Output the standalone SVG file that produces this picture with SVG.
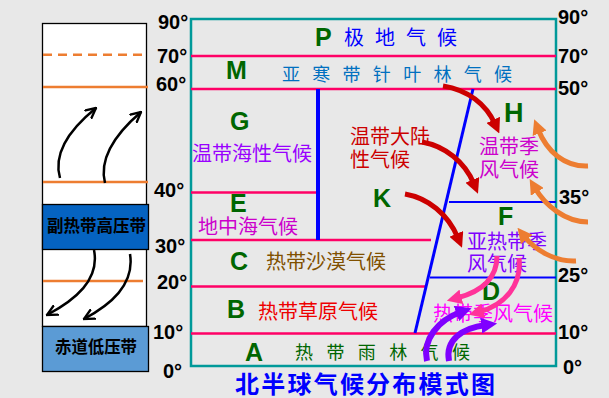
<svg xmlns="http://www.w3.org/2000/svg" width="609" height="398" viewBox="0 0 609 398">
<defs>
<style>
.deg{font-family:"Liberation Sans",Arial,sans-serif;font-weight:bold;font-size:20px;fill:#000}
.let{font-family:"Liberation Sans",Arial,sans-serif;font-weight:bold;font-size:25px;fill:#006600}
.cjk{font-family:"Liberation Sans","Noto Sans CJK SC",sans-serif;font-size:20px}
.s17{font-size:17px}
.s18{font-size:18px}
.s24{font-size:24px}
.bold{font-weight:bold}
.mag{stroke:#ff0066;stroke-width:2.5;fill:none}
.blu{stroke:#0000ff;fill:none}
.org{stroke:#ed7d31;stroke-width:2.5;fill:none}
.arr{fill:none;stroke-width:5}
.blk{fill:none;stroke:#000;stroke-width:2.5}
</style>
<marker id="hRed" viewBox="0 0 10 10" refX="3" refY="5" markerWidth="15" markerHeight="15" markerUnits="userSpaceOnUse" orient="auto"><path d="M0,0 L10,5 L0,10 z" fill="#cc0000"/></marker>
<marker id="hOrg" viewBox="0 0 10 10" refX="3" refY="5" markerWidth="15" markerHeight="15" markerUnits="userSpaceOnUse" orient="auto"><path d="M0,0 L10,5 L0,10 z" fill="#ed7d31"/></marker>
<marker id="hPink" viewBox="0 0 10 10" refX="3" refY="5" markerWidth="15" markerHeight="15" markerUnits="userSpaceOnUse" orient="auto"><path d="M0,0 L10,5 L0,10 z" fill="#ff3399"/></marker>
<marker id="hPur" viewBox="0 0 10 10" refX="3" refY="5" markerWidth="16" markerHeight="16" markerUnits="userSpaceOnUse" orient="auto"><path d="M0,0 L10,5 L0,10 z" fill="#7f00ff"/></marker>
<marker id="hBlk" viewBox="0 0 10 10" refX="9" refY="5" markerWidth="12" markerHeight="12" markerUnits="userSpaceOnUse" orient="auto"><path d="M0,0.5 L9,5 L0,9.5" fill="none" stroke="#000" stroke-width="2"/></marker>
</defs>
<rect x="0" y="0" width="609" height="398" fill="#e8e8e8"/>

<g id="pressure-column">
<rect x="42.5" y="23.5" width="104" height="303" fill="#fff" stroke="#000" stroke-width="1.3"/>
<line x1="43" y1="54.7" x2="145" y2="54.7" class="org" stroke-dasharray="9,6"/>
<line x1="43" y1="87" x2="148" y2="87" class="org"/>
<line x1="43" y1="182" x2="148" y2="182" class="org"/>
<line x1="43" y1="281" x2="143" y2="281" class="org"/>
</g>
<g id="subtropical-high">
<rect x="42.5" y="204.5" width="106" height="45" fill="#0563c1" stroke="#000" stroke-width="1.3"/>
<text x="47" y="232" class="cjk s17 bold" textLength="99" lengthAdjust="spacingAndGlyphs" fill="#000">副热带高压带</text>
</g>
<g id="equatorial-low">
<rect x="42.5" y="326.5" width="106" height="45" fill="#5b9bd5" stroke="#000" stroke-width="1.3"/>
<text x="55" y="353" class="cjk s17 bold" textLength="82" lengthAdjust="spacingAndGlyphs" fill="#000">赤道低压带</text>
</g>

<g id="left-labels">
<text x="158" y="29" class="deg">90°</text>
<text x="157" y="63" class="deg">70°</text>
<text x="156" y="91" class="deg">60°</text>
<text x="154" y="197" class="deg">40°</text>
<text x="155" y="253" class="deg">30°</text>
<text x="157" y="289" class="deg">20°</text>
<text x="153" y="339" class="deg">10°</text>
<text x="163" y="378" class="deg">0°</text>
</g>
<g id="right-labels">
<text x="558" y="24" class="deg">90°</text>
<text x="558" y="63" class="deg">70°</text>
<text x="558" y="95" class="deg">50°</text>
<text x="559" y="204" class="deg">35°</text>
<text x="558" y="282" class="deg">25°</text>
<text x="558" y="339" class="deg">10°</text>
<text x="563" y="374" class="deg">0°</text>
</g>

<g id="chart-frame">
<rect x="191" y="19" width="365" height="347" fill="none" stroke="#009999" stroke-width="2.5"/>
<line x1="191" y1="56" x2="556" y2="56" class="mag"/>
<line x1="191" y1="89" x2="556" y2="89" class="mag"/>
<line x1="191" y1="192.5" x2="318" y2="192.5" class="mag"/>
<line x1="191" y1="240" x2="431" y2="240" class="mag"/>
<line x1="191" y1="286.5" x2="427" y2="286.5" class="mag"/>
<line x1="191" y1="333.5" x2="556" y2="333.5" class="mag"/>
<line x1="318" y1="89" x2="318" y2="240" class="blu" stroke-width="4"/>
<line x1="415" y1="333" x2="473" y2="89" class="blu" stroke-width="3"/>
<line x1="449" y1="202" x2="556" y2="202" class="blu" stroke-width="2.2"/>
<line x1="430" y1="277.5" x2="556" y2="277.5" class="blu" stroke-width="2.2"/>
</g>

<g id="zone-P"><text x="315" y="46" class="let">P</text><text x="344" y="45" class="cjk" fill="#0000ff" textLength="113" lengthAdjust="spacing">极 地 气 候</text></g>
<g id="zone-M"><text x="226" y="79" class="let">M</text><text x="282" y="81" class="cjk s18" fill="#0070c0" textLength="230" lengthAdjust="spacing">亚 寒 带 针 叶 林 气 候</text></g>
<g id="zone-G"><text x="230" y="130" class="let">G</text><text x="192" y="161" class="cjk" fill="#9900ff">温带海性气候</text></g>
<g id="zone-E"><text x="230" y="212" class="let">E</text><text x="198" y="234" class="cjk" fill="#cc00cc">地中海气候</text></g>
<g id="zone-C"><text x="230" y="270" class="let">C</text><text x="266" y="269" class="cjk" fill="#805000">热带沙漠气候</text></g>
<g id="zone-B"><text x="227" y="318" class="let">B</text><text x="258" y="319" class="cjk" fill="#ee0000">热带草原气候</text></g>
<g id="zone-A"><text x="245" y="361" class="let">A</text><text x="295" y="359" class="cjk s18" fill="#006600" textLength="175" lengthAdjust="spacing">热 带 雨 林 气 候</text></g>
<g id="zone-K"><text x="373" y="207" class="let">K</text><text x="350" y="144" class="cjk" fill="#cc0000">温带大陆</text><text x="350" y="167" class="cjk" fill="#cc0000">性气候</text></g>
<g id="zone-H"><text x="504" y="122" class="let" style="font-size:27px">H</text><text x="479" y="154" class="cjk" fill="#cc00cc">温带季</text><text x="479" y="177" class="cjk" fill="#cc00cc">风气候</text></g>
<g id="zone-F"><text x="498" y="225" class="let">F</text><text x="467" y="249" class="cjk" fill="#7f00ff">亚热带季</text><text x="467" y="271" class="cjk" fill="#7f00ff">风气候</text></g>
<g id="zone-D"><text x="482" y="300" class="let">D</text><text x="433" y="321" class="cjk" fill="#ff00ff">热带季风气候</text></g>

<g id="connectors">
<path d="M60,178 C52,150 75,125 96,108" class="blk" marker-end="url(#hBlk)"/>
<path d="M105,183 C98,155 120,130 141,112" class="blk" marker-end="url(#hBlk)"/>
<path d="M94,250 C100,280 75,300 47,315" class="blk" marker-end="url(#hBlk)"/>
<path d="M130,254 C135,285 110,305 84,319" class="blk" marker-end="url(#hBlk)"/>
<path d="M443,86 C468,90 486,104 495,124" class="arr" stroke="#cc0000" marker-end="url(#hRed)"/>
<path d="M422,142 C445,146 465,162 474,184" class="arr" stroke="#cc0000" marker-end="url(#hRed)"/>
<path d="M405,194 C428,198 448,214 458,238" class="arr" stroke="#cc0000" marker-end="url(#hRed)"/>
<path d="M588,166 C565,167 547,152 538,129" class="arr" stroke="#ed7d31" marker-end="url(#hOrg)"/>
<path d="M588,222 C565,222 545,205 535,188" class="arr" stroke="#ed7d31" marker-end="url(#hOrg)"/>
<path d="M576,261 C555,262 535,250 524,236" class="arr" stroke="#ed7d31" marker-end="url(#hOrg)"/>
<path d="M497,256 C497,280 480,292 457,298" class="arr" stroke="#ff3399" marker-end="url(#hPink)"/>
<path d="M519,258 C522,285 505,305 479,312" class="arr" stroke="#ff3399" marker-end="url(#hPink)"/>
<path d="M427,361 C422,340 438,320 461,312" class="arr" stroke="#7f00ff" style="stroke-width:6" marker-end="url(#hPur)"/>
<path d="M449,361 C445,340 462,328 486,325" class="arr" stroke="#7f00ff" style="stroke-width:6" marker-end="url(#hPur)"/>
</g>

<g id="title"><text x="235" y="393" class="cjk s24 bold" fill="#0000ff" textLength="260" lengthAdjust="spacing">北半球气候分布模式图</text></g>
</svg>
